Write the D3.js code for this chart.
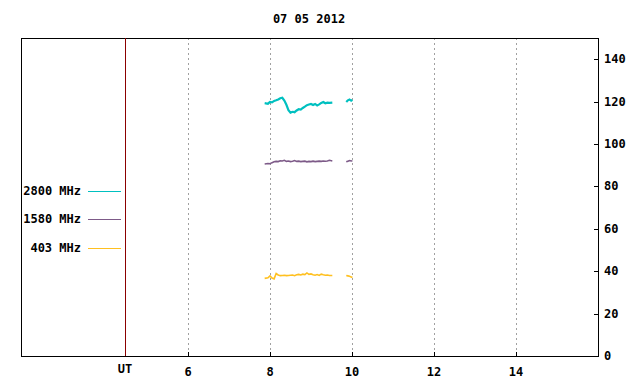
<!DOCTYPE html>
<html>
<head>
<meta charset="utf-8">
<script src="https://cdn.jsdelivr.net/npm/d3@7"></script>
<style>
  body { margin: 0; background: #fff; }
  svg text { font-family: "DejaVu Sans Mono", monospace; font-weight: bold; font-size: 12px; fill: #000; }
</style>
</head>
<body>
<svg id="chart" width="640" height="384"></svg>
<script>
// data (UT hours, flux)
const title = "07 05 2012";
const xTicks = [6, 8, 10, 12, 14];
const yTicks = [0, 20, 40, 60, 80, 100, 120, 140];

const timesA = [7.87, 7.95, 8.00, 8.05, 8.10, 8.15, 8.20, 8.25, 8.30, 8.35, 8.40,
  8.45, 8.50, 8.55, 8.60, 8.65, 8.70, 8.75, 8.80, 8.85, 8.90, 8.95, 9.00,
  9.05, 9.10, 9.15, 9.20, 9.25, 9.30, 9.35, 9.40, 9.45, 9.52];
const timesB = [9.86, 9.90, 9.94, 9.98, 10.01];

const f2800a = [119.3, 119.0, 119.8, 119.6, 120.3, 120.6, 121.0, 121.6, 121.8, 120.5, 118.5,
  116.0, 114.8, 115.2, 115.0, 115.8, 116.4, 116.2, 117.0, 117.6, 118.3, 118.6, 118.9,
  118.4, 118.9, 118.2, 118.7, 119.4, 119.8, 119.2, 119.5, 119.4, 119.5];
const f2800b = [119.8, 120.6, 121.0, 120.4, 120.8];

const f1580a = [90.6, 90.8, 90.7, 91.2, 91.6, 91.8, 91.7, 92.1, 92.0, 92.3, 91.8,
  92.0, 91.7, 91.9, 92.2, 91.8, 91.9, 91.7, 91.8, 91.9, 91.6, 91.8, 91.7,
  91.9, 91.7, 91.8, 91.9, 91.8, 92.0, 91.9, 92.0, 92.3, 92.0];
const f1580b = [91.6, 91.9, 92.2, 92.0, 92.1];

const f403a = [36.6, 36.9, 37.8, 36.8, 36.4, 38.9, 38.2, 37.9, 38.0, 38.1, 37.9,
  38.0, 38.1, 38.2, 37.9, 38.3, 38.5, 38.2, 38.6, 38.4, 39.2, 38.5, 38.7,
  38.3, 38.1, 38.4, 38.0, 38.6, 38.3, 38.1, 38.2, 38.0, 38.0];
const f403b = [38.0, 37.8, 37.6, 37.3, 37.0];

const seriesNames = ["2800 MHz", "1580 MHz", "403 MHz"];
const seriesColors = ["#00c0c0", "#7d5a88", "#ffc020"];

const svg = d3.select("#chart");
const L = 21, R = 598, T = 38, B = 356, SEP = 125;

const x = d3.scaleLinear().domain([6, 14]).range([188, 516]);
const y = d3.scaleLinear().domain([0, 150]).range([B, T]);

// dotted grid
svg.append("g").selectAll("line").data(xTicks).join("line")
  .attr("x1", d => x(d) + 0.5).attr("x2", d => x(d) + 0.5)
  .attr("y1", T).attr("y2", B)
  .attr("stroke", "#a0a0a0").attr("stroke-dasharray", "2,3");

// frame
svg.append("rect").attr("x", L + 0.5).attr("y", T + 0.5)
  .attr("width", R - L).attr("height", B - T)
  .attr("fill", "none").attr("stroke", "#000");

// legend separator
svg.append("line").attr("x1", SEP + 0.5).attr("x2", SEP + 0.5)
  .attr("y1", T).attr("y2", B).attr("stroke", "#8b0000");

// x axis ticks (inward) + labels
const xa = svg.append("g");
xa.selectAll("line").data(xTicks).join("line")
  .attr("x1", d => x(d) + 0.5).attr("x2", d => x(d) + 0.5)
  .attr("y1", B).attr("y2", B - 4).attr("stroke", "#000");
xa.selectAll("text").data(xTicks).join("text")
  .attr("x", d => x(d)).attr("y", B + 20)
  .attr("text-anchor", "middle").text(d => d);
svg.append("text").attr("x", SEP).attr("y", B + 17)
  .attr("text-anchor", "middle").text("UT");

// right y axis
const ya = svg.append("g");
ya.selectAll("line").data(yTicks).join("line")
  .attr("x1", R - 4).attr("x2", R)
  .attr("y1", d => Math.round(y(d)) + 0.5).attr("y2", d => Math.round(y(d)) + 0.5)
  .attr("stroke", "#000");
ya.selectAll("text").data(yTicks).join("text")
  .attr("x", R + 6).attr("y", d => y(d) + 4).text(d => d);

// title
svg.append("text").attr("x", 309).attr("y", 23)
  .attr("text-anchor", "middle").text(title);

// series
const line = d3.line().x(d => x(d[0])).y(d => y(d[1]));
const segs = [
  [f2800a, f2800b],
  [f1580a, f1580b],
  [f403a, f403b]
];
segs.forEach((pair, i) => {
  [[timesA, pair[0]], [timesB, pair[1]]].forEach(([t, v]) => {
    svg.append("path")
      .datum(d3.zip(t, v))
      .attr("d", line)
      .attr("fill", "none")
      .attr("stroke", seriesColors[i])
      .attr("stroke-width", i === 0 ? 2.2 : 1.6);
  });
});

// legend
const legY = [191, 219, 248];
const lg = svg.append("g");
seriesNames.forEach((n, i) => {
  lg.append("text").attr("x", 81).attr("y", legY[i] + 4)
    .attr("text-anchor", "end").text(n);
  lg.append("line").attr("x1", 88).attr("x2", 121)
    .attr("y1", legY[i] + 0.5).attr("y2", legY[i] + 0.5)
    .attr("stroke", seriesColors[i]);
});
</script>
</body>
</html>
